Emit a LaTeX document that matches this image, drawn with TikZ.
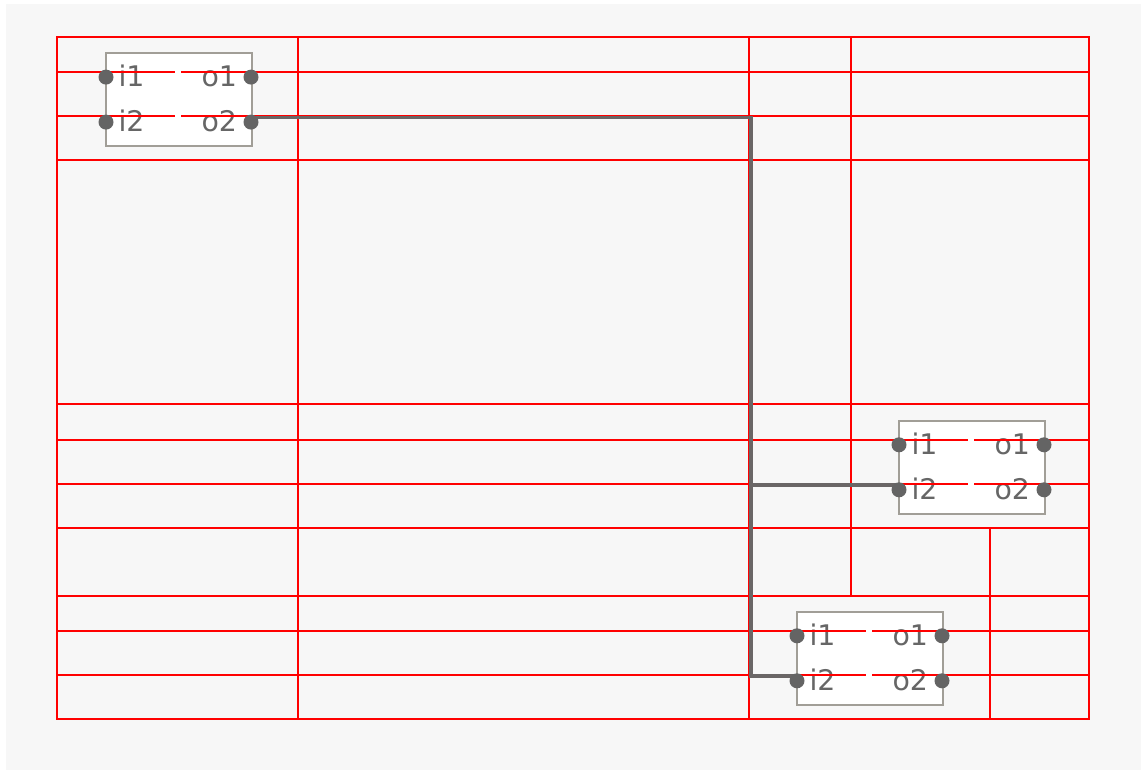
\documentclass[tikz,border=0pt]{standalone}
\usepackage{fontspec}
\setmainfont{DejaVu Sans}
\usetikzlibrary{calc}
\definecolor{bgc}{HTML}{F7F7F7}
\definecolor{gridc}{HTML}{FF0000}
\definecolor{wirec}{HTML}{6A6666}
\definecolor{dotc}{HTML}{646464}
\definecolor{textc}{HTML}{666666}
\definecolor{boxc}{HTML}{A19E97}
\pgfdeclarelayer{front}
\pgfsetlayers{main,front}
\tikzset{
  blockbox/.style={draw=boxc, fill=white, line width=2bp, minimum width=146bp, minimum height=92.5bp, inner sep=0pt, outer sep=0pt},
  plabel/.style={text=textc, font=\fontsize{28.5}{32}\selectfont, inner sep=0pt, outer sep=0pt},
  portdot/.style={circle, fill=dotc, minimum size=15bp, inner sep=0pt, outer sep=0pt},
  gridline/.style={draw=gridc, line width=1.2bp},
  wire/.style={draw=wirec, line width=3.2bp},
}
\newcommand\portblock[3]{%
  \node[blockbox, anchor=north west] (#1) at (#2,#3) {};
  \node[plabel, anchor=base west] (#1-ti1) at ($(#1.north west)+(12.5,33.7)$) {i1};
  \node[plabel, anchor=base west] (#1-ti2) at ($(#1.north west)+(12.5,78.5)$) {i2};
  \node[plabel, anchor=base east] (#1-to1) at ($(#1.north east)+(-15,33.7)$) {o1};
  \node[plabel, anchor=base east] (#1-to2) at ($(#1.north east)+(-15,78.5)$) {o2};
  \coordinate (#1-w) at ($(#1.north west)+(0,64)$);
  \coordinate (#1-e) at ($(#1.north east)+(-1,64)$);
  \begin{pgfonlayer}{front}
    \node[portdot] (#1-i1) at ($(#1.north west)+(0,23.8)$) {};
    \node[portdot] (#1-i2) at ($(#1.north west)+(0,68.8)$) {};
    \node[portdot] (#1-o1) at ($(#1.north east)+(-1,23.8)$) {};
    \node[portdot] (#1-o2) at ($(#1.north east)+(-1,68.8)$) {};
  \end{pgfonlayer}
}
\begin{document}
\begin{tikzpicture}[x=1bp,y=-1bp]
  \useasboundingbox (0,0) rectangle (1141,770);
  \fill[bgc] (6,4) rectangle (1141,770);

  % blocks
  \portblock{A}{106}{53.3}
  \portblock{B}{899}{421}
  \portblock{C}{797}{612}

  % layout grid
  \path[gridline] (57,37) rectangle (1089,719);
  % horizontal lines
  \path[gridline] (57,72) -- (175,72) (181,72) -- (1089,72);
  \path[gridline] (57,116) -- (175,116) (181,116) -- (1089,116);
  \path[gridline] (57,160) -- (1089,160);
  \path[gridline] (57,404) -- (1089,404);
  \path[gridline] (57,440) -- (968,440) (974,440) -- (1089,440);
  \path[gridline] (57,484) -- (968,484) (974,484) -- (1089,484);
  \path[gridline] (57,528) -- (1089,528);
  \path[gridline] (57,596) -- (1089,596);
  \path[gridline] (57,631) -- (866,631) (872,631) -- (1089,631);
  \path[gridline] (57,675) -- (866,675) (872,675) -- (1089,675);
  % vertical lines
  \path[gridline] (298,37) -- (298,719);
  \path[gridline] (749,37) -- (749,719);
  \path[gridline] (851,37) -- (851,596);
  \path[gridline] (990,528) -- (990,719);

  % connectors
  \coordinate (trunk) at (751,300);
  \path[wire] (A-e) -| (trunk |- C-w) -- (C-w);
  \path[wire] (trunk |- B-w) -- (B-w);
\end{tikzpicture}
\end{document}
